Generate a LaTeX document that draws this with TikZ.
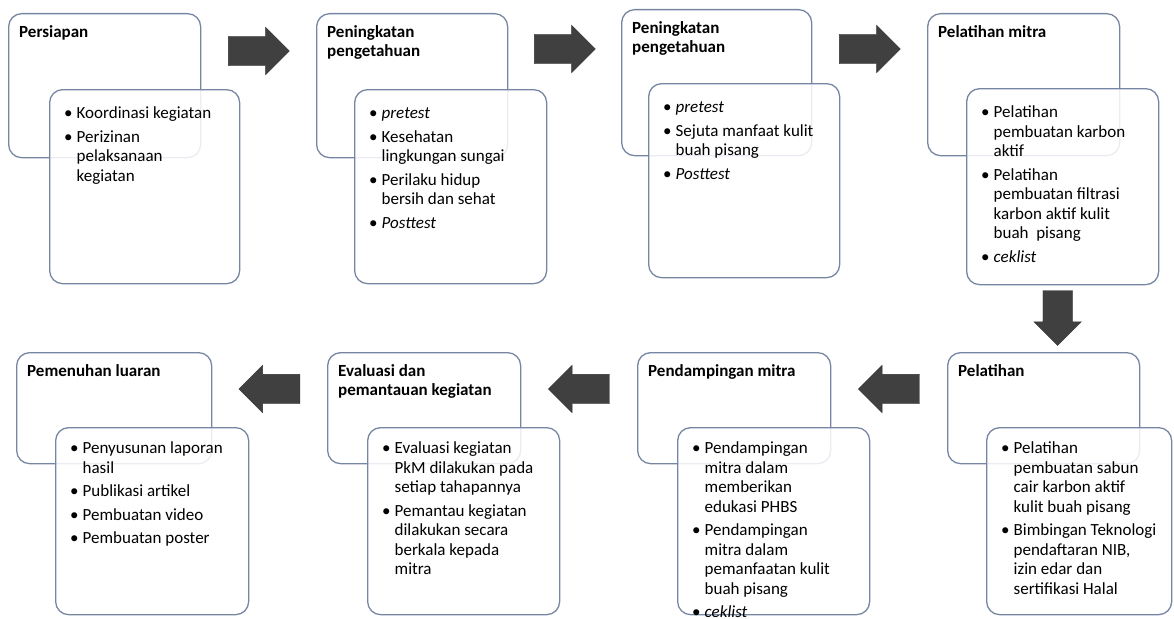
\documentclass[tikz,border=0pt]{standalone}
\usepackage{fontspec}
\setmainfont{Carlito}
\usetikzlibrary{positioning}
\usetikzlibrary{calc}
\usetikzlibrary{shapes.arrows}

\definecolor{boxline}{RGB}{118,134,162}
\definecolor{arrowfill}{RGB}{64,64,64}

\begin{document}
\begin{tikzpicture}[
	x=1pt, y=-1pt,
	every node/.style={font=\fontsize{17}{19.5}\selectfont, inner sep=0pt},
	stage/.style={draw=boxline, line width=1.3pt, rounded corners=13pt, fill=white, anchor=north west},
	detail/.style={stage, fill opacity=0.85},
	title/.style={font=\fontsize{17}{19.5}\selectfont\bfseries, align=left, anchor=north west},
	items/.style={anchor=north west},
	flow/.style={single arrow, anchor=tail, fill=arrowfill, draw=arrowfill!80!black, inner xsep=0pt, inner ysep=14.5pt, minimum height=61pt, single arrow head extend=9pt, single arrow head indent=0pt},
]
	\useasboundingbox (0,0) rectangle (1174,618);

	\node[stage, minimum width=192pt, minimum height=144pt] (p1) at (8,13) {};
	\node[stage, minimum width=191pt, minimum height=144pt] (p2) at (316,13) {};
	\node[stage, minimum width=190pt, minimum height=146pt] (p3) at (621,9) {};
	\node[stage, minimum width=192pt, minimum height=142pt] (p4) at (927,13) {};
	\node[stage, minimum width=195pt, minimum height=111pt] (p5) at (16,352) {};
	\node[stage, minimum width=193pt, minimum height=111pt] (p6) at (327,352) {};
	\node[stage, minimum width=193pt, minimum height=111pt] (p7) at (637,352) {};
	\node[stage, minimum width=192pt, minimum height=111pt] (p8) at (947,352) {};

	\node[detail, minimum width=190pt, minimum height=194pt] (m1) at (49,89) {};
	\node[detail, minimum width=192pt, minimum height=194pt] (m2) at (354,89) {};
	\node[detail, minimum width=191pt, minimum height=194pt] (m3) at (648,83) {};
	\node[detail, minimum width=192pt, minimum height=196pt] (m4) at (966,88) {};
	\node[detail, minimum width=193pt, minimum height=187pt] (m5) at (55,427) {};
	\node[detail, minimum width=192pt, minimum height=187pt] (m6) at (367,427) {};
	\node[detail, minimum width=192pt, minimum height=187pt] (m7) at (677,427) {};
	\node[detail, minimum width=185pt, minimum height=187pt] (m8) at (986,427) {};

	\node[title] (t1) at ([shift={(11,10.5)}]p1.north west) {\strut Persiapan};
	\node[title] (t2) at ([shift={(11,10.5)}]p2.north west) {\strut Peningkatan\\pengetahuan};
	\node[title] (t3) at ([shift={(11,10.5)}]p3.north west) {\strut Peningkatan\\pengetahuan};
	\node[title] (t4) at ([shift={(11,10.5)}]p4.north west) {\strut Pelatihan mitra};
	\node[title] (t5) at ([shift={(11,10.5)}]p5.north west) {\strut Pemenuhan luaran};
	\node[title] (t6) at ([shift={(11,10.5)}]p6.north west) {\strut Evaluasi dan\\pemantauan kegiatan};
	\node[title] (t7) at ([shift={(11,10.5)}]p7.north west) {\strut Pendampingan mitra};
	\node[title] (t8) at ([shift={(11,10.5)}]p8.north west) {\strut Pelatihan};

	\node[items] (l1) at ([shift={(15,16)}]m1.north west) {\begin{tabular}{@{}l@{\hspace{4pt}}l@{}}
		\textbullet & Koordinasi kegiatan\\[4pt]
		\textbullet & Perizinan\\
		& pelaksanaan\\
		& kegiatan
	\end{tabular}};
	\node[items] (l2) at ([shift={(15,16)}]m2.north west) {\begin{tabular}{@{}l@{\hspace{4pt}}l@{}}
		\textbullet & \textit{pretest}\\[4pt]
		\textbullet & Kesehatan\\
		& lingkungan sungai\\[4pt]
		\textbullet & Perilaku hidup\\
		& bersih dan sehat\\[4pt]
		\textbullet & \textit{Posttest}
	\end{tabular}};
	\node[items] (l3) at ([shift={(15,16)}]m3.north west) {\begin{tabular}{@{}l@{\hspace{4pt}}l@{}}
		\textbullet & \textit{pretest}\\[4pt]
		\textbullet & Sejuta manfaat kulit\\
		& buah pisang\\[4pt]
		\textbullet & \textit{Posttest}
	\end{tabular}};
	\node[items] (l4) at ([shift={(15,16)}]m4.north west) {\begin{tabular}{@{}l@{\hspace{4pt}}l@{}}
		\textbullet & Pelatihan\\
		& pembuatan karbon\\
		& aktif\\[4pt]
		\textbullet & Pelatihan\\
		& pembuatan filtrasi\\
		& karbon aktif kulit\\
		& buah\ \ pisang\\[4pt]
		\textbullet & \textit{ceklist}
	\end{tabular}};
	\node[items] (l5) at ([shift={(15,13)}]m5.north west) {\begin{tabular}{@{}l@{\hspace{4pt}}l@{}}
		\textbullet & Penyusunan laporan\\
		& hasil\\[4pt]
		\textbullet & Publikasi artikel\\[4pt]
		\textbullet & Pembuatan video\\[4pt]
		\textbullet & Pembuatan poster
	\end{tabular}};
	\node[items] (l6) at ([shift={(15,13)}]m6.north west) {\begin{tabular}{@{}l@{\hspace{4pt}}l@{}}
		\textbullet & Evaluasi kegiatan\\
		& PkM dilakukan pada\\
		& setiap tahapannya\\[4pt]
		\textbullet & Pemantau kegiatan\\
		& dilakukan secara\\
		& berkala kepada\\
		& mitra
	\end{tabular}};
	\node[items] (l7) at ([shift={(15,13)}]m7.north west) {\begin{tabular}{@{}l@{\hspace{4pt}}l@{}}
		\textbullet & Pendampingan\\
		& mitra dalam\\
		& memberikan\\
		& edukasi PHBS\\[4pt]
		\textbullet & Pendampingan\\
		& mitra dalam\\
		& pemanfaatan kulit\\
		& buah pisang\\[4pt]
		\textbullet & \textit{ceklist}
	\end{tabular}};
	\node[items] (l8) at ([shift={(15,13)}]m8.north west) {\begin{tabular}{@{}l@{\hspace{4pt}}l@{}}
		\textbullet & Pelatihan\\
		& pembuatan sabun\\
		& cair karbon aktif\\
		& kulit buah pisang\\[4pt]
		\textbullet & Bimbingan Teknologi\\
		& pendaftaran NIB,\\
		& izin edar dan\\
		& sertifikasi Halal
	\end{tabular}};

	\node[flow] (a1) at ($(p1.north east)!.5!(p2.north west)+(-30.5,38)$) {};
	\node[flow] (a2) at ($(p2.north east)!.5!(p3.north west)+(-30.5,38)$) {};
	\node[flow] (a3) at ($(p3.north east)!.5!(p4.north west)+(-30.5,38)$) {};
	\node[flow, rotate=-90, minimum height=55pt] (a4) at ([shift={(-5,5)}]m4.south) {};
	\node[flow, rotate=180] (a5) at ($(p8.north west)!.5!(p7.north east)+(30.5,37)$) {};
	\node[flow, rotate=180] (a6) at ($(p7.north west)!.5!(p6.north east)+(30.5,37)$) {};
	\node[flow, rotate=180] (a7) at ($(p6.north west)!.5!(p5.north east)+(30.5,37)$) {};
\end{tikzpicture}
\end{document}
